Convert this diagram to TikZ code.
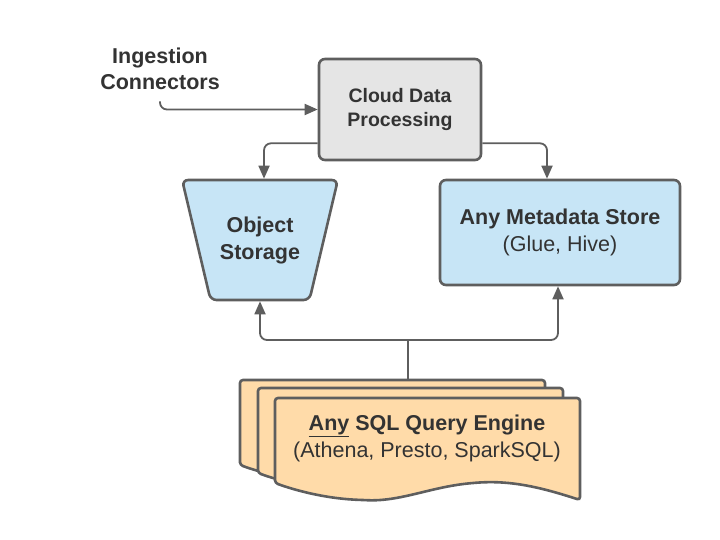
\documentclass[tikz,border=0pt]{standalone}
\usepackage{fontspec}
\setmainfont{Liberation Sans}
\usetikzlibrary{arrows.meta,shapes.geometric}
\definecolor{edge}{HTML}{5E5E5E}
\definecolor{ink}{HTML}{333333}
\definecolor{grayfill}{HTML}{E5E5E5}
\definecolor{bluefill}{HTML}{C7E5F6}
\definecolor{orangefill}{HTML}{FFDBA9}
\begin{document}
\begin{tikzpicture}[x=1pt,y=-1pt,
  box/.style={draw=edge,line width=2.6pt,rounded corners=6pt,align=center,text=ink,
    font=\fontsize{21.5}{27}\selectfont\bfseries},
  conn/.style={draw=edge,line width=1.8pt,rounded corners=7pt,-{Triangle[length=13pt,width=11pt]}},
  doc/.style={draw=edge,line width=2.6pt,fill=orangefill,rounded corners=3pt}]
\useasboundingbox (0,0) rectangle (720,540);
\node[align=center,text=ink,font=\fontsize{21.5}{26}\selectfont\bfseries] (ing) at (160,69) {Ingestion\\Connectors};
\node[box,fill=grayfill,minimum width=162,minimum height=101,font=\fontsize{19.5}{23.5}\selectfont\bfseries] (cdp) at (400,109.5) {Cloud Data\\Processing};
\node[box,fill=bluefill,trapezium,shape border rotate=180,trapezium stretches=true,
  trapezium left angle=64,trapezium right angle=64,minimum width=156,minimum height=120,inner sep=0pt] (obj) at (260,240) {Object\\Storage};
\node[box,fill=bluefill,minimum width=240,minimum height=105] (meta) at (560,232.5) {Any Metadata Store\\{\mdseries (Glue, Hive)}};
% stacked documents
\foreach \dx/\dy in {-35/-18,-17/-10,0/0}
  \draw[doc,shift={(\dx,\dy)}] (275,483) -- (275,398) -- (580,398) -- (580,500)
    .. controls (540,487) and (510,480) .. (473,483)
    .. controls (430,487) and (400,502) .. (363,500)
    .. controls (330,499) and (300,492) .. (275,483) -- cycle;
\node[align=center,text=ink,font=\fontsize{21.5}{27}\selectfont\bfseries] (sql) at (427,438.5) {\underline{Any} SQL Query Engine\\{\mdseries (Athena, Presto, SparkSQL)}};
\coordinate (stacktop) at (408,380);
\coordinate (fork) at (408,340);
\draw[conn] ([yshift=-8pt]ing.south) |- (cdp.west);
\draw[conn] ([yshift=18pt]cdp.south west) -| ([xshift=4pt]obj.north);
\draw[conn] ([yshift=18pt]cdp.south east) -| ([xshift=-13pt]meta.north);
\draw[draw=edge,line width=1.8pt] (stacktop) -- (fork);
\draw[conn] (fork) -| (obj.south);
\draw[conn] (fork) -| ([xshift=-2pt]meta.south);
\end{tikzpicture}
\end{document}
